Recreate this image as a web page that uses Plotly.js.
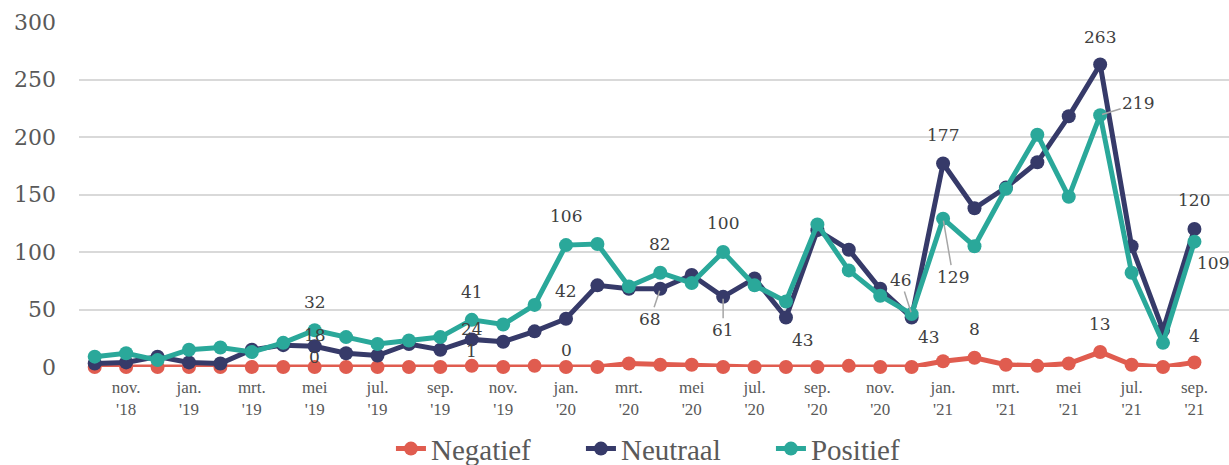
<!DOCTYPE html>
<html>
<head>
<meta charset="utf-8">
<script src="https://cdn.plot.ly/plotly-3.0.1.min.js"></script>
<style>html,body{margin:0;padding:0;background:#fff;}#chart{width:1229px;height:465px;}</style>
</head>
<body>
<div id="chart"></div>
<script>
const months = ["okt. '18","nov. '18","dec. '18","jan. '19","feb. '19","mrt. '19","apr. '19","mei '19","jun. '19","jul. '19","aug. '19","sep. '19",
  "okt. '19","nov. '19","dec. '19","jan. '20","feb. '20","mrt. '20","apr. '20","mei '20","jun. '20","jul. '20","aug. '20","sep. '20",
  "okt. '20","nov. '20","dec. '20","jan. '21","feb. '21","mrt. '21","apr. '21","mei '21","jun. '21","jul. '21","aug. '21","sep. '21"];
const negatief = [0,0,0,0,0,0,0,0,0,0,0,0,1,0,1,0,0,3,2,2,0,0,0,0,1,0,0,5,8,2,1,3,13,2,0,4];
const neutraal = [3,4,9,4,3,15,19,18,12,10,20,15,24,22,31,42,71,68,68,80,61,77,43,119,102,68,43,177,138,156,178,218,263,105,32,120];
const positief = [9,12,6,15,17,13,21,32,26,20,23,26,41,37,54,106,107,70,82,73,100,71,57,124,84,62,46,129,105,155,202,148,219,82,21,109];
const tickMonths = ["nov. '18","jan. '19","mrt. '19","mei '19","jul. '19","sep. '19","nov. '19","jan. '20","mrt. '20","mei '20","jul. '20","sep. '20","nov. '20","jan. '21","mrt. '21","mei '21","jul. '21","sep. '21"];
const tickLabels = ["nov.<br>'18","jan.<br>'19","mrt.<br>'19","mei<br>'19","jul.<br>'19","sep.<br>'19","nov.<br>'19","jan.<br>'20","mrt.<br>'20","mei<br>'20","jul.<br>'20","sep.<br>'20","nov.<br>'20","jan.<br>'21","mrt.<br>'21","mei<br>'21","jul.<br>'21","sep.<br>'21"];

const series = {Negatief: negatief, Neutraal: neutraal, Positief: positief};
const colors = {Negatief: '#E05C4F', Neutraal: '#363A69', Positief: '#2AA89A'};

// which points carry a data label, and where the label sits (pixel offsets)
const labelSpec = [
  ['Positief',7,0,28,false],['Positief',12,0,28,false],['Positief',15,0,29,false],['Positief',18,0,29,false],
  ['Positief',20,0,29,false],['Positief',26,-11,34,true],['Positief',27,10,-58,true],['Positief',32,38,12,true],
  ['Positief',35,19,-21,false],
  ['Neutraal',7,0,11,false],['Neutraal',12,0,10,false],['Neutraal',15,0,28,false],['Neutraal',18,-10,-30,true],
  ['Neutraal',20,0,-33,true],['Neutraal',22,17,-22,false],['Neutraal',26,17,-19,false],['Neutraal',27,0,28,false],
  ['Neutraal',32,0,28,false],['Neutraal',35,0,29,false],
  ['Negatief',7,0,10,false],['Negatief',12,0,15,false],['Negatief',15,0,17,false],['Negatief',28,0,29,false],
  ['Negatief',32,0,28,false],['Negatief',35,0,26,false]
];

const traces = Object.keys(series).map(name => ({
  type: 'scatter', mode: 'lines+markers', name: name,
  x: months, y: series[name],
  line: {color: colors[name], width: 5},
  marker: {color: colors[name], size: 14},
  cliponaxis: false
}));

const annotations = labelSpec.map(([name, i, dx, dy, leader]) => {
  const a = {
    xref: 'x', yref: 'y', x: months[i], y: series[name][i],
    text: String(series[name][i]),
    font: {family: 'DejaVu Serif', size: 17, color: '#404040'}
  };
  if (leader) {
    a.showarrow = true; a.ax = dx; a.ay = -dy; a.arrowhead = 0;
    a.arrowcolor = '#A6A6A6'; a.arrowwidth = 1.5; a.standoff = 2;
  } else {
    a.showarrow = false; a.xshift = dx; a.yshift = dy;
  }
  return a;
});

const layout = {
  width: 1229, height: 465,
  margin: {l: 79, r: 0, t: 22, b: 98},
  paper_bgcolor: '#fff', plot_bgcolor: '#fff',
  showlegend: true,
  legend: {orientation: 'h', x: 0.55, xanchor: 'center', xref: 'container', yref: 'container', y: 0.035, yanchor: 'middle',
           font: {family: 'Liberation Serif', size: 29, color: '#595959'},
           entrywidth: 145, entrywidthmode: 'pixels', itemwidth: 30},
  xaxis: {type: 'category', range: [-0.5, 36.1], tickmode: 'array', tickvals: tickMonths, ticktext: tickLabels,
          showgrid: false, zeroline: false, showline: false, ticks: '', tickangle: 0, ticklabelstandoff: 8,
          tickfont: {family: 'Liberation Serif', size: 17, color: '#595959'}},
  yaxis: {range: [0, 300], dtick: 50, showgrid: true, gridcolor: '#D9D9D9', gridwidth: 2, zeroline: false,
          ticks: '', ticklabelstandoff: 22,
          tickfont: {family: 'DejaVu Serif', size: 22, color: '#595959'}},
  annotations: annotations
};

Plotly.newPlot('chart', traces, layout, {displayModeBar: false, staticPlot: true});
</script>
</body>
</html>
